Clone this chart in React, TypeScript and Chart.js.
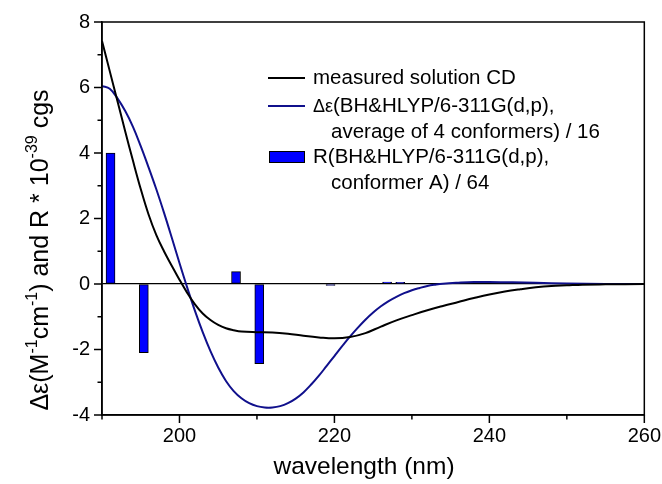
import React, { useEffect, useRef } from "react";
import { Chart, registerables } from "chart.js";

Chart.register(...registerables);

// ---- data ----
const measuredX = [190, 191, 192, 193, 194, 195, 196, 197, 198, 199, 200, 201, 202, 203, 204, 205, 206, 207, 208, 210, 212, 214, 216, 218, 220, 222, 224, 226, 228, 230, 232, 234, 236, 238, 240, 242, 244, 246, 248, 250, 252, 255, 260];
const measuredY = [7.42, 6.5, 5.58, 4.66, 3.76, 2.9, 2.13, 1.5, 1.0, 0.56, 0.13, -0.27, -0.62, -0.9, -1.1, -1.25, -1.35, -1.41, -1.45, -1.47, -1.48, -1.52, -1.58, -1.63, -1.66, -1.62, -1.5, -1.3, -1.11, -0.95, -0.8, -0.67, -0.55, -0.43, -0.32, -0.23, -0.16, -0.1, -0.06, -0.04, -0.02, -0.01, 0];

const calcX = [190, 191, 192, 193, 194, 195, 196, 197, 198, 199, 200, 201, 202, 203, 204, 205, 206, 207, 208, 209, 210, 211, 212, 213, 214, 215, 216, 217, 218, 219, 220, 221, 222, 223, 224, 225, 226, 227, 228, 229, 230, 231, 232, 233, 234, 236, 238, 240, 243, 246, 250, 255, 260];
const calcY = [6.05, 5.96, 5.67, 5.28, 4.8, 4.21, 3.57, 2.9, 2.18, 1.42, 0.64, -0.11, -0.82, -1.47, -2.05, -2.55, -2.96, -3.27, -3.49, -3.64, -3.73, -3.77, -3.77, -3.73, -3.64, -3.5, -3.31, -3.07, -2.8, -2.5, -2.2, -1.9, -1.61, -1.34, -1.09, -0.87, -0.68, -0.52, -0.39, -0.28, -0.19, -0.12, -0.06, -0.02, 0.01, 0.04, 0.06, 0.06, 0.05, 0.035, 0.015, 0.003, 0];

const barX = [191.1, 195.4, 207.3, 210.3, 219.5, 226.8, 228.5];
const barY = [4.0, -2.1, 0.38, -2.43, -0.04, 0.06, 0.05];

const xMajorTicks = [200, 220, 240, 260];
const xMinorTicks = [190, 210, 230, 250];
const yMajorTicks = [-4, -2, 0, 2, 4, 6, 8];
const yMinorTicks = [-3, -1, 1, 3, 5, 7];

const legendLabels = [
  "measured solution CD",
  "(BH&HLYP/6-311G(d,p),",
  "average of 4 conformers) / 16",
  "R(BH&HLYP/6-311G(d,p),",
  "conformer A) / 64",
];

const xTitle = "wavelength (nm)";

const BLUE_LINE = "#10108c";
const BAR_BLUE = "#0000ff";
const FONT = "'Liberation Sans', Arial, sans-serif";

const overlay = {
  id: "overlay",
  afterDraw(chart: any) {
    const { ctx, chartArea: a, scales } = chart;
    const xs = scales.x;
    const ys = scales.y;
    ctx.save();
    ctx.strokeStyle = "#000";
    ctx.lineWidth = 1.5;
    ctx.strokeRect(a.left, a.top, a.right - a.left, a.bottom - a.top);

    const seg = (x1: number, y1: number, x2: number, y2: number) => {
      ctx.beginPath();
      ctx.moveTo(x1, y1);
      ctx.lineTo(x2, y2);
      ctx.stroke();
    };
    ctx.lineWidth = 1.5;
    yMajorTicks.forEach((v) => { const p = ys.getPixelForValue(v); seg(a.left - 8, p, a.left, p); });
    yMinorTicks.forEach((v) => { const p = ys.getPixelForValue(v); seg(a.left - 4.5, p, a.left, p); });
    xMajorTicks.forEach((v) => { const p = xs.getPixelForValue(v); seg(p, a.bottom, p, a.bottom + 8); });
    xMinorTicks.forEach((v) => { const p = xs.getPixelForValue(v); seg(p, a.bottom, p, a.bottom + 4.5); });

    // legend
    ctx.fillStyle = "#000";
    ctx.textBaseline = "middle";
    ctx.textAlign = "left";
    ctx.lineWidth = 2;
    ctx.strokeStyle = "#000";
    seg(268, 78, 305, 78);
    ctx.font = `20.5px ${FONT}`;
    ctx.fillText(legendLabels[0], 313, 78);

    ctx.strokeStyle = BLUE_LINE;
    seg(268, 106, 305, 106);
    ctx.font = `18px ${FONT}`;
    ctx.fillText("Δε", 313, 107);
    const dw = ctx.measureText("Δε").width;
    ctx.font = `20.5px ${FONT}`;
    ctx.fillText(legendLabels[1], 313 + dw, 106);
    ctx.fillText(legendLabels[2], 331, 132);

    ctx.fillStyle = BAR_BLUE;
    ctx.fillRect(269, 151, 36, 12);
    ctx.strokeStyle = "#000";
    ctx.lineWidth = 1;
    ctx.strokeRect(269.5, 151.5, 35, 11);
    ctx.fillStyle = "#000";
    ctx.fillText(legendLabels[3], 313, 157);
    ctx.fillText(legendLabels[4], 331, 183);

    // x title
    ctx.font = `24.5px ${FONT}`;
    ctx.textAlign = "center";
    ctx.textBaseline = "alphabetic";
    ctx.fillText(xTitle, 364, 474);

    // y title with superscripts
    const runs: [string, number, number][] = [
      ["Δε", 25, 0],
      ["(M", 25, 0],
      ["-1", 16, -11],
      ["cm", 25, 0],
      ["-1", 16, -11],
      [") and R * 10", 25, 0],
      ["-39", 16, -11],
      [" cgs", 25, 0],
    ];
    let total = 0;
    runs.forEach(([t, s]) => { ctx.font = `${s}px ${FONT}`; total += ctx.measureText(t).width; });
    ctx.translate(47.5, 250);
    ctx.rotate(-Math.PI / 2);
    ctx.textAlign = "left";
    let cx = -total / 2;
    runs.forEach(([t, s, dy]) => {
      ctx.font = `${s}px ${FONT}`;
      ctx.fillText(t, cx, dy);
      cx += ctx.measureText(t).width;
    });
    ctx.restore();
  },
};

export default function App() {
  const ref = useRef<HTMLCanvasElement | null>(null);
  useEffect(() => {
    if (!ref.current) return;
    const chart = new Chart(ref.current, {
      type: "line",
      data: {
        datasets: [
          {
            type: "line",
            label: "measured solution CD",
            data: measuredX.map((x, i) => ({ x, y: measuredY[i] })),
            borderColor: "#000",
            borderWidth: 2,
            pointRadius: 0,
            tension: 0.4,
            fill: false,
            order: 1,
          },
          {
            type: "line",
            label: "calc",
            data: calcX.map((x, i) => ({ x, y: calcY[i] })),
            borderColor: BLUE_LINE,
            borderWidth: 2,
            pointRadius: 0,
            tension: 0.4,
            fill: false,
            order: 2,
          },
          {
            type: "bar",
            label: "R",
            data: barX.map((x, i) => ({ x, y: barY[i] })),
            backgroundColor: BAR_BLUE,
            borderColor: "#000",
            borderWidth: 1,
            borderSkipped: false,
            barThickness: 9,
            order: 3,
          } as any,
        ],
      },
      options: {
        responsive: false,
        animation: false,
        devicePixelRatio: 1,
        layout: { padding: { left: 0, right: 15, top: 22, bottom: 0 } },
        plugins: { legend: { display: false }, tooltip: { enabled: false } },
        scales: {
          x: {
            type: "linear",
            min: 190,
            max: 260,
            offset: false,
            afterFit: (s: any) => { s.height = 69; },
            grid: { offset: false, color: "transparent", tickColor: "transparent", tickLength: 8, drawTicks: true },
            border: { display: true, color: "#000", width: 1.5 },
            ticks: {
              stepSize: 10,
              padding: 1,
              color: "#000",
              font: { size: 20, family: FONT },
              maxRotation: 0,
              autoSkip: false,
              callback: (v: any) => (Number(v) % 20 === 0 ? String(v) : ""),
            },
          },
          y: {
            type: "linear",
            min: -4,
            max: 8,
            afterFit: (s: any) => { s.width = 102; },
            grid: {
              color: (c: any) => (c.tick && c.tick.value === 0 ? "#000" : "transparent"),
              lineWidth: 1.3,
              tickColor: "transparent",
              tickLength: 8,
            },
            border: { display: true, color: "#000", width: 1.5 },
            ticks: {
              stepSize: 2,
              padding: 4,
              color: "#000",
              font: { size: 20, family: FONT },
            },
          },
        },
      } as any,
      plugins: [overlay],
    });
    return () => chart.destroy();
  }, []);
  return (
    <div style={{ position: "fixed", left: 0, top: 0, width: 662, height: 484, background: "#fff" }}>
      <canvas ref={ref} width={662} height={484} style={{ width: 662, height: 484 }} />
    </div>
  );
}
